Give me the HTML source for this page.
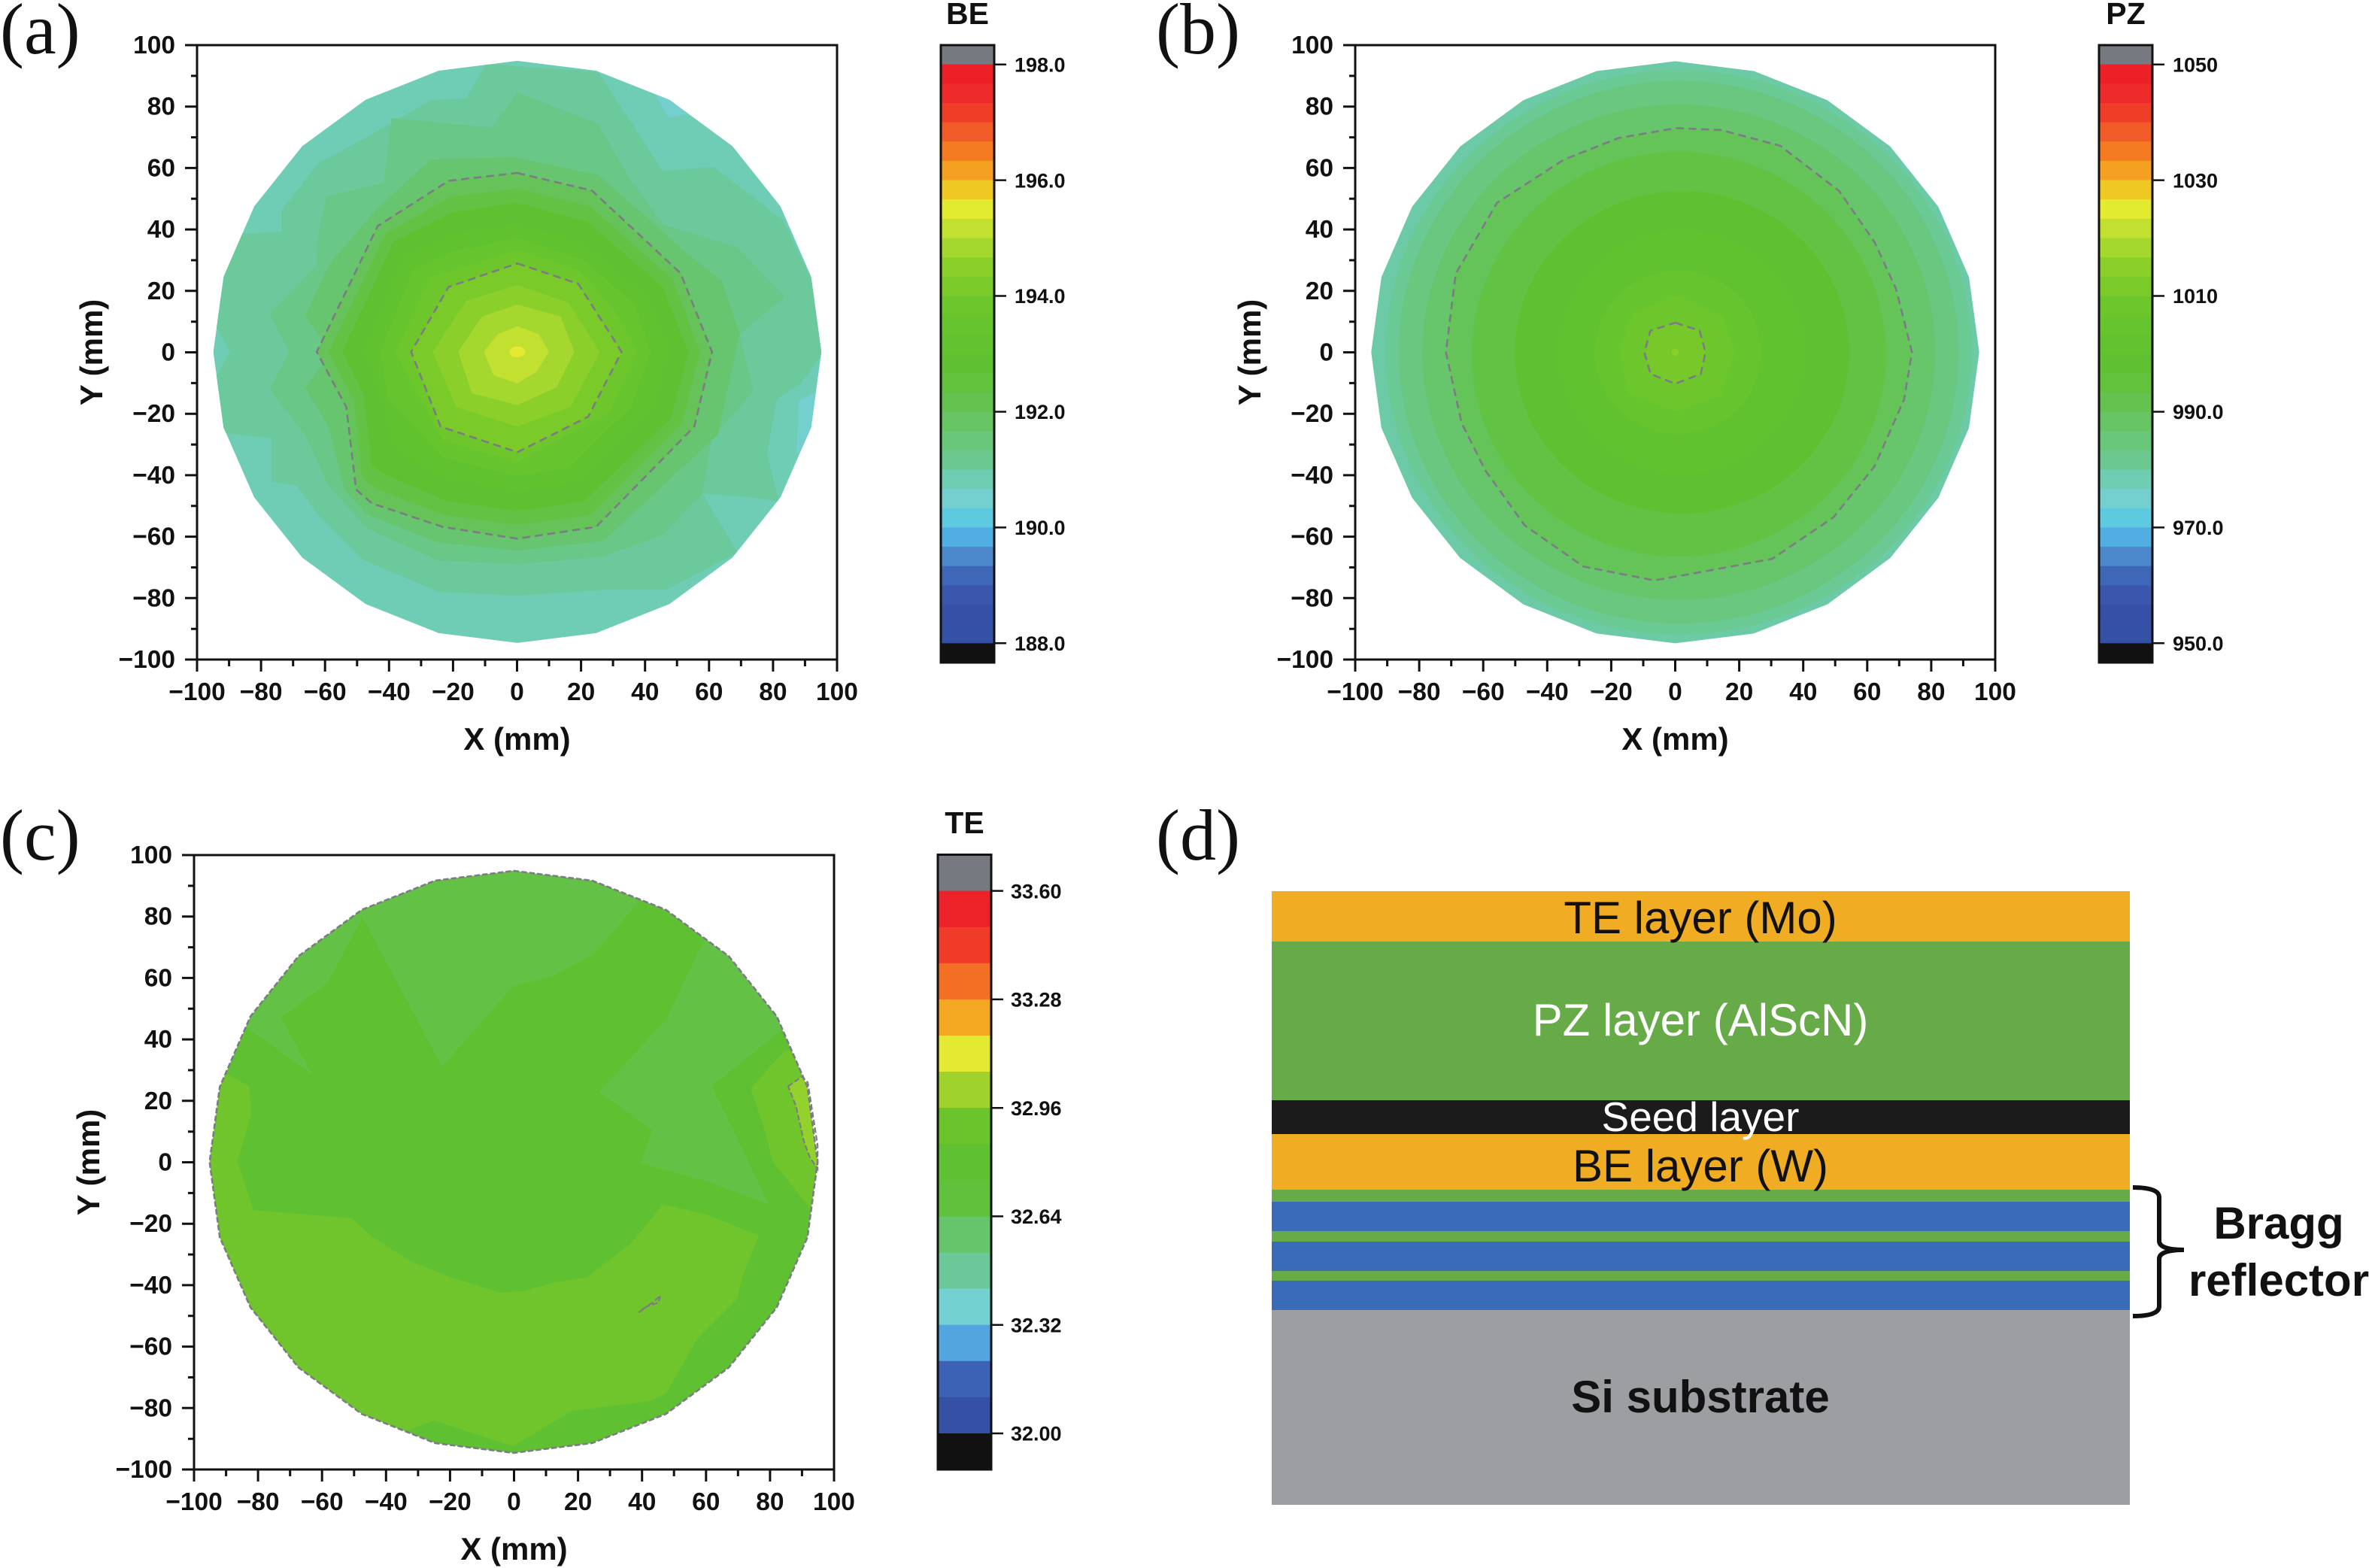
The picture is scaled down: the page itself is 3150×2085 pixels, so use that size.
<!DOCTYPE html>
<html><head><meta charset="utf-8"><style>html,body{margin:0;padding:0;background:#fff}svg{display:block}</style></head>
<body>
<svg width="3150" height="2085" viewBox="0 0 3150 2085" xmlns="http://www.w3.org/2000/svg" font-family="'Liberation Sans', Arial, sans-serif">
<rect width="3150" height="2085" fill="#fff"/>
<defs>
<clipPath id="ca"><polygon points="780,40 980,65 1167,139 1327,257 1449,410 1527,589 1553,780 1527,972 1449,1150 1327,1303 1167,1421 980,1495 780,1520 580,1495 394,1421 233,1303 111,1150 33,972 7,780 33,589 111,410 233,257 394,139 580,65"/></clipPath>
<clipPath id="cb"><polygon points="783,40 983,65 1170,139 1330,257 1452,410 1530,589 1556,780 1530,972 1452,1150 1330,1303 1170,1421 983,1495 783,1520 583,1495 397,1421 236,1303 114,1150 36,972 10,780 36,589 114,410 236,257 397,139 583,65"/></clipPath>
<clipPath id="cc"><polygon points="782,42 982,67 1169,141 1329,259 1451,412 1529,591 1555,782 1529,974 1451,1152 1329,1305 1169,1423 982,1497 782,1522 582,1497 396,1423 235,1305 113,1152 35,974 9,782 35,591 113,412 235,259 396,141 582,67"/></clipPath>
</defs>

<!-- ===== Panel (a) contours ===== -->
<g transform="translate(280,60) scale(0.52296)">
<g clip-path="url(#ca)">
<rect x="0" y="0" width="1600" height="1600" fill="#6ecdb4"/>
<polygon points="1130,125 1167,139 1215,175 1165,185" fill="#73d0cf"/>
<polygon points="1495,905 1540,880 1540,1000 1490,1040" fill="#73d0cf"/>
<polygon points="700,48 985,68 1150,320 1280,310 1455,445 1530,600 1560,780 1500,860 1440,900 1415,1040 1445,1160 1375,1150 1250,1140 1340,1290 1160,1385 1000,1385 780,1400 580,1390 390,1310 270,1190 220,1120 155,1110 155,1000 30,985 10,850 50,780 10,710 40,570 80,480 180,475 180,420 275,300 395,235 560,140 650,135" fill="#6bc99b"/>
<polygon points="780,120 985,200 1060,330 1150,455 1340,515 1460,640 1345,735 1380,880 1275,1000 1250,1140 1150,1245 1000,1300 780,1320 580,1310 400,1230 300,1120 240,990 150,875 200,780 150,685 270,560 275,470 295,385 440,350 460,185 715,210" fill="#69c787"/>
<polygon points="560,290 770,285 985,330 1100,430 1200,520 1300,600 1345,735 1290,990 1150,1120 1000,1260 780,1285 580,1265 400,1195 340,1130 300,970 240,870 310,780 240,690 300,560 420,420" fill="#67c56f"/>
<polygon points="780,325 970,370 1195,580 1275,780 1230,970 980,1225 780,1255 590,1225 410,1165 370,1130 345,920 270,780 425,460 605,345" fill="#65c35a"/>
<polygon points="780,365 965,410 1175,595 1245,780 1200,960 965,1195 780,1220 595,1195 425,1130 385,1100 365,905 300,780 445,480 610,385" fill="#62c244"/>
<polygon points="780,400 960,450 1150,615 1215,780 1170,950 950,1160 780,1185 600,1160 440,1090 410,1070 390,890 335,780 465,500 615,425" fill="#5fc131"/>
<polygon points="780,455 950,505 1110,640 1165,780 1120,930 930,1110 780,1135 600,1100 470,1030 430,880 390,780 490,540 620,480" fill="#61c22f"/>
<polygon points="780,490 945,545 1080,660 1120,780 1070,920 910,1075 780,1095 595,1050 450,900 430,780 515,570 615,525" fill="#66c42e"/>
<polygon points="780,520 940,575 1040,690 1085,780 1015,935 780,1060 590,1005 470,780 560,590" fill="#6cc62c"/>
<polygon points="780,555 935,607 1045,780 960,945 780,1035 585,970 510,780 605,615" fill="#7acb29"/>
<polygon points="780,610 910,655 990,780 915,920 780,970 625,920 565,780 650,650" fill="#8bd02a"/>
<polygon points="780,660 890,690 925,780 880,870 780,915 665,885 630,780 690,690" fill="#a5d82f"/>
<polygon points="780,715 835,735 860,780 830,830 780,860 720,840 695,780 730,735" fill="#c2e030"/>
<ellipse cx="780" cy="780" rx="20" ry="14" fill="#e4ea30"/>
</g>
<polygon points="780,325 970,370 1195,580 1275,780 1230,970 980,1225 780,1255 590,1225 410,1165 370,1130 345,920 270,780 425,460 605,345" fill="none" stroke="#7d7b85" stroke-width="5" stroke-dasharray="20 12"/>
<polygon points="780,555 935,607 1045,780 960,945 780,1035 585,970 510,780 605,615" fill="none" stroke="#7d7b85" stroke-width="5" stroke-dasharray="20 12"/>
</g>

<!-- ===== Panel (b) contours ===== -->
<g transform="translate(1818,60.5) scale(0.52296)">
<g clip-path="url(#cb)">
<rect x="0" y="0" width="1600" height="1600" fill="#6ccaa6"/>
<ellipse cx="792" cy="780" rx="745" ry="718" fill="#6bc994"/>
<ellipse cx="792" cy="780" rx="712" ry="690" fill="#69c780"/>
<ellipse cx="792" cy="780" rx="652" ry="630" fill="#67c56c"/>
<polygon points="785,210 900,215 1050,255 1200,370 1290,500 1345,620 1385,780 1365,900 1290,1070 1185,1200 1030,1305 870,1335 730,1360 550,1325 400,1220 300,1080 240,960 200,780 225,580 330,400 500,290 640,235" fill="#65c458"/>
<ellipse cx="792" cy="785" rx="527" ry="515" fill="#62c244"/>
<ellipse cx="800" cy="780" rx="425" ry="410" fill="#5fc131"/>
<ellipse cx="800" cy="780" rx="312" ry="310" fill="#61c22f"/>
<ellipse cx="790" cy="780" rx="212" ry="208" fill="#66c42e"/>
<polygon points="785,635 905,690 935,780 900,890 785,930 665,885 640,780 675,680" fill="#6cc62c"/>
<polygon points="783,705 845,725 860,780 848,835 783,860 720,835 705,780 720,725" fill="#77c92a"/>
<circle cx="783" cy="780" r="9" fill="#8bd02a"/>
</g>
<polygon points="785,210 900,215 1050,255 1200,370 1290,500 1345,620 1385,780 1365,900 1290,1070 1185,1200 1030,1305 870,1335 730,1360 550,1325 400,1220 300,1080 240,960 200,780 225,580 330,400 500,290 640,235" fill="none" stroke="#7d7b85" stroke-width="5" stroke-dasharray="20 12"/>
<polygon points="783,705 845,725 860,780 848,835 783,860 720,835 705,780 720,725" fill="none" stroke="#7d7b85" stroke-width="5" stroke-dasharray="20 12"/>
</g>

<!-- ===== Panel (c) contours ===== -->
<g transform="translate(274,1136) scale(0.52296)">
<g clip-path="url(#cc)">
<rect x="0" y="0" width="1600" height="1600" fill="#5fc131"/>
<polygon points="0,555 45,555 110,590 115,660 80,780 120,905 370,925 420,970 520,1035 620,1075 750,1115 810,1110 880,1090 970,1075 1080,990 1130,930 1160,890 1270,915 1405,970 1365,1070 1350,1130 1250,1230 1170,1370 1130,1390 930,1415 780,1505 580,1440 510,1465 480,1600 0,1600" fill="#70c42c"/>
<polygon points="1385,595 1470,500 1600,500 1600,900 1540,905 1440,780 1420,700" fill="#70c42c"/>
<polygon points="390,0 390,145 600,540 780,335 880,310 985,255 1100,120 1100,0" fill="#63c245"/>
<polygon points="390,145 395,165 310,325 190,415 270,560 105,440 0,440 0,0 390,0" fill="#63c245"/>
<polygon points="1265,220 1170,420 1000,605 1135,700 1105,785 1270,830 1430,890 1340,700 1285,590 1465,445 1600,445 1600,300 1330,150" fill="#63c245"/>
<polygon points="1480,590 1515,565 1530,580 1555,740 1555,800 1535,770 1520,730 1500,640" fill="#93d22c"/>
</g>
<polygon points="782,42 982,67 1169,141 1329,259 1451,412 1529,591 1555,782 1529,974 1451,1152 1329,1305 1169,1423 982,1497 782,1522 582,1497 396,1423 235,1305 113,1152 35,974 9,782 35,591 113,412 235,259 396,141 582,67" fill="none" stroke="#7d7b85" stroke-width="5" stroke-dasharray="14 6"/>
<polygon points="1480,590 1515,565 1530,580 1555,740 1555,800 1535,770 1520,730 1500,640" fill="none" stroke="#7d7b85" stroke-width="4" stroke-dasharray="14 6"/>
<polyline points="1100,1165 1120,1150 1150,1140 1155,1122 1135,1140 1105,1160" fill="none" stroke="#7d7b85" stroke-width="4" stroke-dasharray="14 6"/>
</g>

<!-- ===== Axes (a) ===== -->
<g id="axA">
<rect x="262" y="60" width="851" height="817" fill="none" stroke="#111" stroke-width="3"/>
<path stroke="#111" stroke-width="3" fill="none" d="M262 877v16M347.1 877v16M432.2 877v16M517.3 877v16M602.4 877v16M687.5 877v16M772.6 877v16M857.7 877v16M942.8 877v16M1027.9 877v16M1113 877v16M304.6 877v9M389.7 877v9M474.8 877v9M559.9 877v9M645 877v9M730 877v9M815.1 877v9M900.2 877v9M985.3 877v9M1070.4 877v9M262 60h-16M262 141.7h-16M262 223.4h-16M262 305.1h-16M262 386.8h-16M262 468.5h-16M262 550.2h-16M262 631.9h-16M262 713.6h-16M262 795.3h-16M262 877h-16M262 100.9h-8M262 182.6h-8M262 264.3h-8M262 346h-8M262 427.7h-8M262 509.4h-8M262 591.1h-8M262 672.8h-8M262 754.5h-8M262 836.2h-8"/>
<g font-size="33.5" font-weight="bold" fill="#111" text-anchor="middle">
<text x="262" y="931">−100</text><text x="347.1" y="931">−80</text><text x="432.2" y="931">−60</text><text x="517.3" y="931">−40</text><text x="602.4" y="931">−20</text><text x="687.5" y="931">0</text><text x="772.6" y="931">20</text><text x="857.7" y="931">40</text><text x="942.8" y="931">60</text><text x="1027.9" y="931">80</text><text x="1113" y="931">100</text>
</g>
<g font-size="33.5" font-weight="bold" fill="#111" text-anchor="end">
<text x="233" y="71">100</text><text x="233" y="152.7">80</text><text x="233" y="234.4">60</text><text x="233" y="316.1">40</text><text x="233" y="397.8">20</text><text x="233" y="479.5">0</text><text x="233" y="561.2">−20</text><text x="233" y="642.9">−40</text><text x="233" y="724.6">−60</text><text x="233" y="806.3">−80</text><text x="233" y="888">−100</text>
</g>
<text x="687.5" y="997" font-size="42" font-weight="bold" text-anchor="middle" fill="#111">X (mm)</text>
<text x="136" y="468.5" font-size="42" font-weight="bold" text-anchor="middle" fill="#111" transform="rotate(-90 136 468.5)">Y (mm)</text>
</g>

<!-- ===== Axes (b) ===== -->
<g transform="translate(1540,0)">
<rect x="262" y="60" width="851" height="817" fill="none" stroke="#111" stroke-width="3"/>
<path stroke="#111" stroke-width="3" fill="none" d="M262 877v16M347.1 877v16M432.2 877v16M517.3 877v16M602.4 877v16M687.5 877v16M772.6 877v16M857.7 877v16M942.8 877v16M1027.9 877v16M1113 877v16M304.6 877v9M389.7 877v9M474.8 877v9M559.9 877v9M645 877v9M730 877v9M815.1 877v9M900.2 877v9M985.3 877v9M1070.4 877v9M262 60h-16M262 141.7h-16M262 223.4h-16M262 305.1h-16M262 386.8h-16M262 468.5h-16M262 550.2h-16M262 631.9h-16M262 713.6h-16M262 795.3h-16M262 877h-16M262 100.9h-8M262 182.6h-8M262 264.3h-8M262 346h-8M262 427.7h-8M262 509.4h-8M262 591.1h-8M262 672.8h-8M262 754.5h-8M262 836.2h-8"/>
<g font-size="33.5" font-weight="bold" fill="#111" text-anchor="middle">
<text x="262" y="931">−100</text><text x="347.1" y="931">−80</text><text x="432.2" y="931">−60</text><text x="517.3" y="931">−40</text><text x="602.4" y="931">−20</text><text x="687.5" y="931">0</text><text x="772.6" y="931">20</text><text x="857.7" y="931">40</text><text x="942.8" y="931">60</text><text x="1027.9" y="931">80</text><text x="1113" y="931">100</text>
</g>
<g font-size="33.5" font-weight="bold" fill="#111" text-anchor="end">
<text x="233" y="71">100</text><text x="233" y="152.7">80</text><text x="233" y="234.4">60</text><text x="233" y="316.1">40</text><text x="233" y="397.8">20</text><text x="233" y="479.5">0</text><text x="233" y="561.2">−20</text><text x="233" y="642.9">−40</text><text x="233" y="724.6">−60</text><text x="233" y="806.3">−80</text><text x="233" y="888">−100</text>
</g>
<text x="687.5" y="997" font-size="42" font-weight="bold" text-anchor="middle" fill="#111">X (mm)</text>
<text x="136" y="468.5" font-size="42" font-weight="bold" text-anchor="middle" fill="#111" transform="rotate(-90 136 468.5)">Y (mm)</text>
</g>

<!-- ===== Axes (c) ===== -->
<g transform="translate(-4,1077)">
<rect x="262" y="60" width="851" height="817" fill="none" stroke="#111" stroke-width="3"/>
<path stroke="#111" stroke-width="3" fill="none" d="M262 877v16M347.1 877v16M432.2 877v16M517.3 877v16M602.4 877v16M687.5 877v16M772.6 877v16M857.7 877v16M942.8 877v16M1027.9 877v16M1113 877v16M304.6 877v9M389.7 877v9M474.8 877v9M559.9 877v9M645 877v9M730 877v9M815.1 877v9M900.2 877v9M985.3 877v9M1070.4 877v9M262 60h-16M262 141.7h-16M262 223.4h-16M262 305.1h-16M262 386.8h-16M262 468.5h-16M262 550.2h-16M262 631.9h-16M262 713.6h-16M262 795.3h-16M262 877h-16M262 100.9h-8M262 182.6h-8M262 264.3h-8M262 346h-8M262 427.7h-8M262 509.4h-8M262 591.1h-8M262 672.8h-8M262 754.5h-8M262 836.2h-8"/>
<g font-size="33.5" font-weight="bold" fill="#111" text-anchor="middle">
<text x="262" y="931">−100</text><text x="347.1" y="931">−80</text><text x="432.2" y="931">−60</text><text x="517.3" y="931">−40</text><text x="602.4" y="931">−20</text><text x="687.5" y="931">0</text><text x="772.6" y="931">20</text><text x="857.7" y="931">40</text><text x="942.8" y="931">60</text><text x="1027.9" y="931">80</text><text x="1113" y="931">100</text>
</g>
<g font-size="33.5" font-weight="bold" fill="#111" text-anchor="end">
<text x="233" y="71">100</text><text x="233" y="152.7">80</text><text x="233" y="234.4">60</text><text x="233" y="316.1">40</text><text x="233" y="397.8">20</text><text x="233" y="479.5">0</text><text x="233" y="561.2">−20</text><text x="233" y="642.9">−40</text><text x="233" y="724.6">−60</text><text x="233" y="806.3">−80</text><text x="233" y="888">−100</text>
</g>
<text x="687.5" y="997" font-size="42" font-weight="bold" text-anchor="middle" fill="#111">X (mm)</text>
<text x="136" y="468.5" font-size="42" font-weight="bold" text-anchor="middle" fill="#111" transform="rotate(-90 136 468.5)">Y (mm)</text>
</g>

<!-- ===== Colorbar (a) ===== -->
<g id="cbA">
<rect x="1251" y="60" width="71" height="26" fill="#76797f"/>
<rect x="1251" y="85.66" width="71" height="26" fill="#ed1f27"/>
<rect x="1251" y="111.32" width="71" height="26" fill="#ee2b2a"/>
<rect x="1251" y="136.97" width="71" height="26" fill="#ef3d27"/>
<rect x="1251" y="162.63" width="71" height="26" fill="#f15b27"/>
<rect x="1251" y="188.28" width="71" height="26" fill="#f47b22"/>
<rect x="1251" y="213.94" width="71" height="26" fill="#f5a021"/>
<rect x="1251" y="239.6" width="71" height="26" fill="#f0c823"/>
<rect x="1251" y="265.25" width="71" height="26" fill="#e3eb31"/>
<rect x="1251" y="290.91" width="71" height="26" fill="#c2e030"/>
<rect x="1251" y="316.56" width="71" height="26" fill="#a5d82f"/>
<rect x="1251" y="342.22" width="71" height="26" fill="#8bd02a"/>
<rect x="1251" y="367.88" width="71" height="26" fill="#7acb29"/>
<rect x="1251" y="393.53" width="71" height="26" fill="#6cc62c"/>
<rect x="1251" y="419.19" width="71" height="26" fill="#66c42e"/>
<rect x="1251" y="444.84" width="71" height="26" fill="#62c230"/>
<rect x="1251" y="470.5" width="71" height="26" fill="#5fc131"/>
<rect x="1251" y="496.16" width="71" height="26" fill="#62c23b"/>
<rect x="1251" y="521.81" width="71" height="26" fill="#64c34e"/>
<rect x="1251" y="547.47" width="71" height="26" fill="#67c563"/>
<rect x="1251" y="573.12" width="71" height="26" fill="#69c77a"/>
<rect x="1251" y="598.78" width="71" height="26" fill="#6bc98f"/>
<rect x="1251" y="624.44" width="71" height="26" fill="#6ecdb2"/>
<rect x="1251" y="650.09" width="71" height="26" fill="#73d0cf"/>
<rect x="1251" y="675.75" width="71" height="26" fill="#5ecae0"/>
<rect x="1251" y="701.4" width="71" height="26" fill="#52aee2"/>
<rect x="1251" y="727.06" width="71" height="26" fill="#4b87cb"/>
<rect x="1251" y="752.72" width="71" height="26" fill="#3f67b7"/>
<rect x="1251" y="778.37" width="71" height="26" fill="#3a56ad"/>
<rect x="1251" y="804.03" width="71" height="26" fill="#364fa7"/>
<rect x="1251" y="829.68" width="71" height="26" fill="#3551a6"/>
<rect x="1251" y="855.34" width="71" height="25.66" fill="#111"/>
<rect x="1251" y="60" width="71" height="821" fill="none" stroke="#111" stroke-width="3"/>
<path stroke="#111" stroke-width="2.5" d="M1322 85.7h16M1322 239.6h16M1322 393.5h16M1322 547.5h16M1322 701.4h16M1322 855.3h16"/>
</g>
<g font-size="27" font-weight="bold" fill="#111">
<text x="1349" y="95.4">198.0</text><text x="1349" y="249.3">196.0</text><text x="1349" y="403.2">194.0</text><text x="1349" y="557.2">192.0</text><text x="1349" y="711.1">190.0</text><text x="1349" y="865">188.0</text>
</g>
<text x="1286.5" y="32" font-size="41" font-weight="bold" text-anchor="middle" fill="#111">BE</text>

<!-- ===== Colorbar (b) ===== -->
<use href="#cbA" transform="translate(1540,0)"/>
<g font-size="27" font-weight="bold" fill="#111">
<text x="2889" y="95.4">1050</text><text x="2889" y="249.3">1030</text><text x="2889" y="403.2">1010</text><text x="2889" y="557.2">990.0</text><text x="2889" y="711.1">970.0</text><text x="2889" y="865">950.0</text>
</g>
<text x="2826.5" y="32" font-size="41" font-weight="bold" text-anchor="middle" fill="#111">PZ</text>

<!-- ===== Colorbar (c) ===== -->
<g>
<rect x="1247" y="1136.5" width="71" height="48.5" fill="#76797f"/>
<rect x="1247" y="1184.6" width="71" height="48.5" fill="#ed2128"/>
<rect x="1247" y="1232.7" width="71" height="48.5" fill="#ef3b27"/>
<rect x="1247" y="1280.8" width="71" height="48.5" fill="#f36f23"/>
<rect x="1247" y="1328.9" width="71" height="48.5" fill="#f4a822"/>
<rect x="1247" y="1377" width="71" height="48.5" fill="#e3ea31"/>
<rect x="1247" y="1425.1" width="71" height="48.5" fill="#9fd22d"/>
<rect x="1247" y="1473.1" width="71" height="48.5" fill="#6cc42c"/>
<rect x="1247" y="1521.2" width="71" height="48.5" fill="#5fc131"/>
<rect x="1247" y="1569.3" width="71" height="48.5" fill="#61c03c"/>
<rect x="1247" y="1617.4" width="71" height="48.5" fill="#66c56a"/>
<rect x="1247" y="1665.5" width="71" height="48.5" fill="#6bc999"/>
<rect x="1247" y="1713.6" width="71" height="48.5" fill="#74d1d1"/>
<rect x="1247" y="1761.7" width="71" height="48.5" fill="#52a5de"/>
<rect x="1247" y="1809.8" width="71" height="48.5" fill="#3b62b5"/>
<rect x="1247" y="1857.9" width="71" height="48.5" fill="#3551a6"/>
<rect x="1247" y="1906" width="71" height="48" fill="#111"/>
<rect x="1247" y="1136.5" width="71" height="817.5" fill="none" stroke="#111" stroke-width="3"/>
<path stroke="#111" stroke-width="2.5" d="M1318 1184.6h16M1318 1328.9h16M1318 1473.2h16M1318 1617.4h16M1318 1761.7h16M1318 1906h16"/>
</g>
<g font-size="27" font-weight="bold" fill="#111">
<text x="1344" y="1194.3">33.60</text><text x="1344" y="1338.6">33.28</text><text x="1344" y="1482.9">32.96</text><text x="1344" y="1627.1">32.64</text><text x="1344" y="1771.4">32.32</text><text x="1344" y="1915.7">32.00</text>
</g>
<text x="1282.5" y="1108" font-size="41" font-weight="bold" text-anchor="middle" fill="#111">TE</text>

<!-- ===== Panel labels ===== -->
<g font-family="'Liberation Serif', 'Times New Roman', serif" font-size="96" fill="#111">
<text x="0" y="71">(a)</text>
<text x="1537" y="71">(b)</text>
<text x="0" y="1143">(c)</text>
<text x="1537" y="1143">(d)</text>
</g>

<!-- ===== Panel (d) ===== -->
<g>
<rect x="1691" y="1185" width="1141" height="68" fill="#f0ac22"/>
<rect x="1691" y="1252" width="1141" height="212" fill="#66ab47"/>
<rect x="1691" y="1463" width="1141" height="46" fill="#1b1b1b"/>
<rect x="1691" y="1508" width="1141" height="75" fill="#f0ac22"/>
<rect x="1691" y="1582" width="1141" height="17" fill="#66ab47"/>
<rect x="1691" y="1598" width="1141" height="40" fill="#3a6bb8"/>
<rect x="1691" y="1637" width="1141" height="15" fill="#66ab47"/>
<rect x="1691" y="1651" width="1141" height="40" fill="#3a6bb8"/>
<rect x="1691" y="1690" width="1141" height="14" fill="#66ab47"/>
<rect x="1691" y="1703" width="1141" height="40" fill="#3a6bb8"/>
<rect x="1691" y="1742" width="1141" height="259" fill="#9d9ea2"/>
<g font-size="60" text-anchor="middle">
<text x="2261" y="1241" fill="#111">TE layer (Mo)</text>
<text x="2261" y="1377" fill="#fff">PZ layer (AlScN)</text>
<text x="2261" y="1504" fill="#fff" font-size="55">Seed layer</text>
<text x="2261" y="1571" fill="#111">BE layer (W)</text>
<text x="2261" y="1878" fill="#111" font-weight="bold">Si substrate</text>
<text x="3030" y="1647" fill="#111" font-weight="bold">Bragg</text>
<text x="3030" y="1723" fill="#111" font-weight="bold">reflector</text>
</g>
<path d="M2836 1579 Q2871 1579 2871 1592 V1650 Q2871 1662 2904 1662 Q2871 1662 2871 1674 V1737 Q2871 1750 2836 1750" fill="none" stroke="#111" stroke-width="6"/>
</g>
</svg>
</body></html>
